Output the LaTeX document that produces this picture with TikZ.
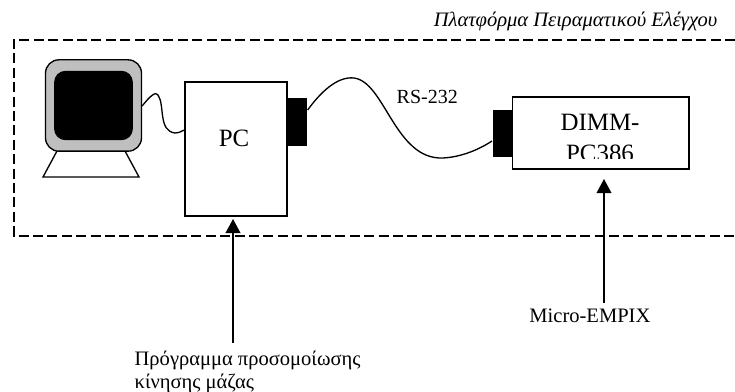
\documentclass[tikz,border=0pt]{standalone}
\usepackage{fontspec}
\setmainfont{Liberation Serif}
\usetikzlibrary{
    arrows.meta,
    positioning
}

\begin{document}
\begin{tikzpicture}[
    x=0.75pt, y=-0.75pt,
    line width=1pt,
    box/.style={rectangle, draw, fill=white, inner sep=0pt, font=\fontsize{18.7}{23}\selectfont},
    port/.style={rectangle, fill=black, inner sep=0pt},
    txt/.style={inner sep=0pt, align=left, font=\fontsize{15.4}{17.2}\selectfont},
    cable/.style={line width=1pt},
    arrow/.style={-{Triangle[length=10.5pt, width=11pt]}, line width=1.1pt}
]
\useasboundingbox (0,0) rectangle (735,392);

% Platform frame
\draw[line width=1.1pt, dash pattern=on 7.5pt off 3.3pt] (735,40) -- (14,40) -- (14,236) -- (735,236);
\node[txt, anchor=base east, font=\itshape\fontsize{15.4}{17}\selectfont] (title) at (718,27) {Πλατφόρμα Πειραματικού Ελέγχου};

% Monitor
\draw[fill=white] (57,151) -- (43,177) -- (139,177) -- (125,151);
\node[box, fill=black!25, rounded corners=10pt, minimum width=72pt, minimum height=68.5pt] (monitor) at (93.5,105.5) {};
\node[box, fill=black, rounded corners=8pt, minimum width=58pt, minimum height=51pt] (screen) at (monitor.center) {};

% PC
\node[box, minimum width=76.5pt, minimum height=100.5pt] (pc) at (236,149) {};
\node[box, draw=none, fill=none] (pclabel) at (234,138) {PC};
\node[port, minimum width=14.5pt, minimum height=36pt, anchor=west] (pcport) at (287,122) {};

% DIMM board
\node[box, minimum width=132.5pt, minimum height=54pt] (dimm) at (600.5,133) {};
\begin{scope}
\clip (513,98) rectangle (688,158.5);
\node[box, draw=none, fill=none, align=center, anchor=base] (dimmlabel) at (600,161.5) {DIMM-\\PC386};
\end{scope}
\node[port, minimum width=15.5pt, minimum height=35pt, anchor=east] (dimmport) at (514,133.5) {};

% Cables
\draw[cable] (monitor.east |- 0,106) .. controls (150,96) and (156,91) .. (158,95) .. controls (165,105) and (158,131) .. (175,133) .. controls (179,133) and (182,131) .. (pc.west |- 0,130);
\draw[cable] (pcport.east |- 0,110) .. controls (320,93) and (337,76) .. (354,78) .. controls (385,82) and (395,160) .. (443,158) .. controls (462,157) and (480,149) .. (dimmport.west |- 0,141);
\node[txt, anchor=base west, font=\fontsize{15}{17}\selectfont] (rs232) at (396,104) {RS-232};

% Inputs
\node[txt, anchor=base west] (prog) at (134,388) {Πρόγραμμα προσομοίωσης\\κίνησης μάζας};
\node[txt, anchor=base east] (empix) at (651,322) {Micro-EMPIX};
\coordinate (progend) at (233,343);
\coordinate (empixend) at (604,303);
\coordinate (pctip) at (233,219);
\coordinate (dimmtip) at (604,179);
\draw[arrow] (progend) -- (pctip);
\draw[arrow] (empixend) -- (dimmtip);
\end{tikzpicture}
\end{document}
